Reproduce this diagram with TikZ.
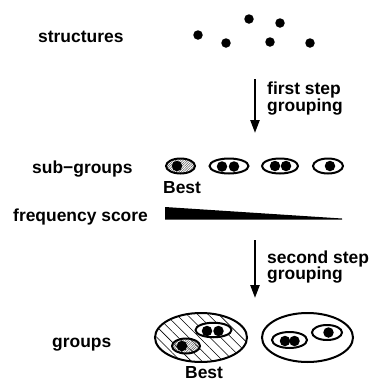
\documentclass[tikz,border=0pt]{standalone}
\usepackage{fontspec}
\setmainfont{Liberation Sans}
\usetikzlibrary{arrows.meta,patterns.meta,shapes.geometric}
\begin{document}
\begin{tikzpicture}[x=1bp,y=-1bp,
  lbl/.style={font=\fontsize{17.5}{17}\selectfont\bfseries, inner sep=0, anchor=base west},
  sdot/.style={circle, fill=black, inner sep=0, minimum size=9.5bp},
  idot/.style={circle, fill=black, inner sep=0, minimum size=10.5bp},
  ell/.style={ellipse, draw=black, line width=2bp, inner sep=0, fill=white},
  hatchsmall/.style={pattern={Lines[angle=45,distance=1.7bp,line width=0.5bp]}, pattern color=black!65},
  hatchbig/.style={pattern={Lines[angle=-45,distance=7.5bp,line width=0.55bp]}, pattern color=black},
  arr/.style={-{Triangle[width=9bp,length=13bp]}, line width=2.4bp}
]
\useasboundingbox (0,0) rectangle (373,382);

% labels on the left
\node[lbl] (tstruct) at (38,42) {structures};
\node[lbl] (tsub) at (32,173) {sub−groups};
\node[lbl] (tfreq) at (13,221) {frequency score};
\node[lbl] (tgroups) at (52,347) {groups};

% structures
\node[sdot] (d1) at (198,35) {};
\node[sdot] (d2) at (226,43) {};
\node[sdot] (d3) at (249,19) {};
\node[sdot] (d4) at (280,23) {};
\node[sdot] (d5) at (270,42) {};
\node[sdot] (d6) at (310,43) {};

% first arrow
\coordinate (a1s) at (255,79);
\coordinate (a1e) at (255,133);
\draw[arr] (a1s) -- (a1e);
\node[lbl] (t1a) at (267,94) {first step};
\node[lbl] (t1b) at (267,111) {grouping};

% sub-groups
\node[ell, hatchsmall, minimum width=29bp, minimum height=15bp] (s1) at (180.5,166) {};
\node[idot] (s1d) at (177,166) {};
\node[ell, minimum width=39bp, minimum height=15bp] (s2) at (229,166) {};
\node[idot] (s2a) at (222,166.5) {};
\node[idot] (s2b) at (234,166.5) {};
\node[ell, minimum width=36bp, minimum height=15bp] (s3) at (280,166) {};
\node[idot] (s3a) at (275,166) {};
\node[idot] (s3b) at (286,166) {};
\node[ell, minimum width=30bp, minimum height=15bp] (s4) at (328,166) {};
\node[idot] (s4a) at (330,166) {};
\node[lbl] (best1) at (163,193) {Best};

% frequency wedge
\fill (165,207) coordinate (w1) -- (342,218.5) coordinate (w2) -- (342,219.5) -- (165,219.5) coordinate (w3) -- cycle;

% second arrow
\coordinate (a2s) at (255,240);
\coordinate (a2e) at (255,298);
\draw[arr] (a2s) -- (a2e);
\node[lbl] (t2a) at (267,263) {second step};
\node[lbl] (t2b) at (267,279) {grouping};

% groups
\node[ell, hatchbig, minimum width=92bp, minimum height=49bp] (g1) at (201,337.5) {};
\node[ell, minimum width=36bp, minimum height=14.5bp] (g1a) at (213.5,330) {};
\node[idot] (g1a1) at (207,331) {};
\node[idot] (g1a2) at (218.5,331) {};
\node[ell, hatchsmall, minimum width=28bp, minimum height=15bp] (g1b) at (186,346) {};
\node[idot] (g1b1) at (182,346) {};
\node[lbl] (best2) at (185,378.5) {Best};

\node[ell, minimum width=91bp, minimum height=49bp] (g2) at (307.5,337.5) {};
\node[ell, minimum width=35bp, minimum height=16bp] (g2a) at (289.5,340) {};
\node[idot] (g2a1) at (285,341) {};
\node[idot] (g2a2) at (294.5,341) {};
\node[ell, minimum width=30bp, minimum height=15bp] (g2b) at (327,332.5) {};
\node[idot] (g2b1) at (328.5,332.5) {};
\end{tikzpicture}
\end{document}
